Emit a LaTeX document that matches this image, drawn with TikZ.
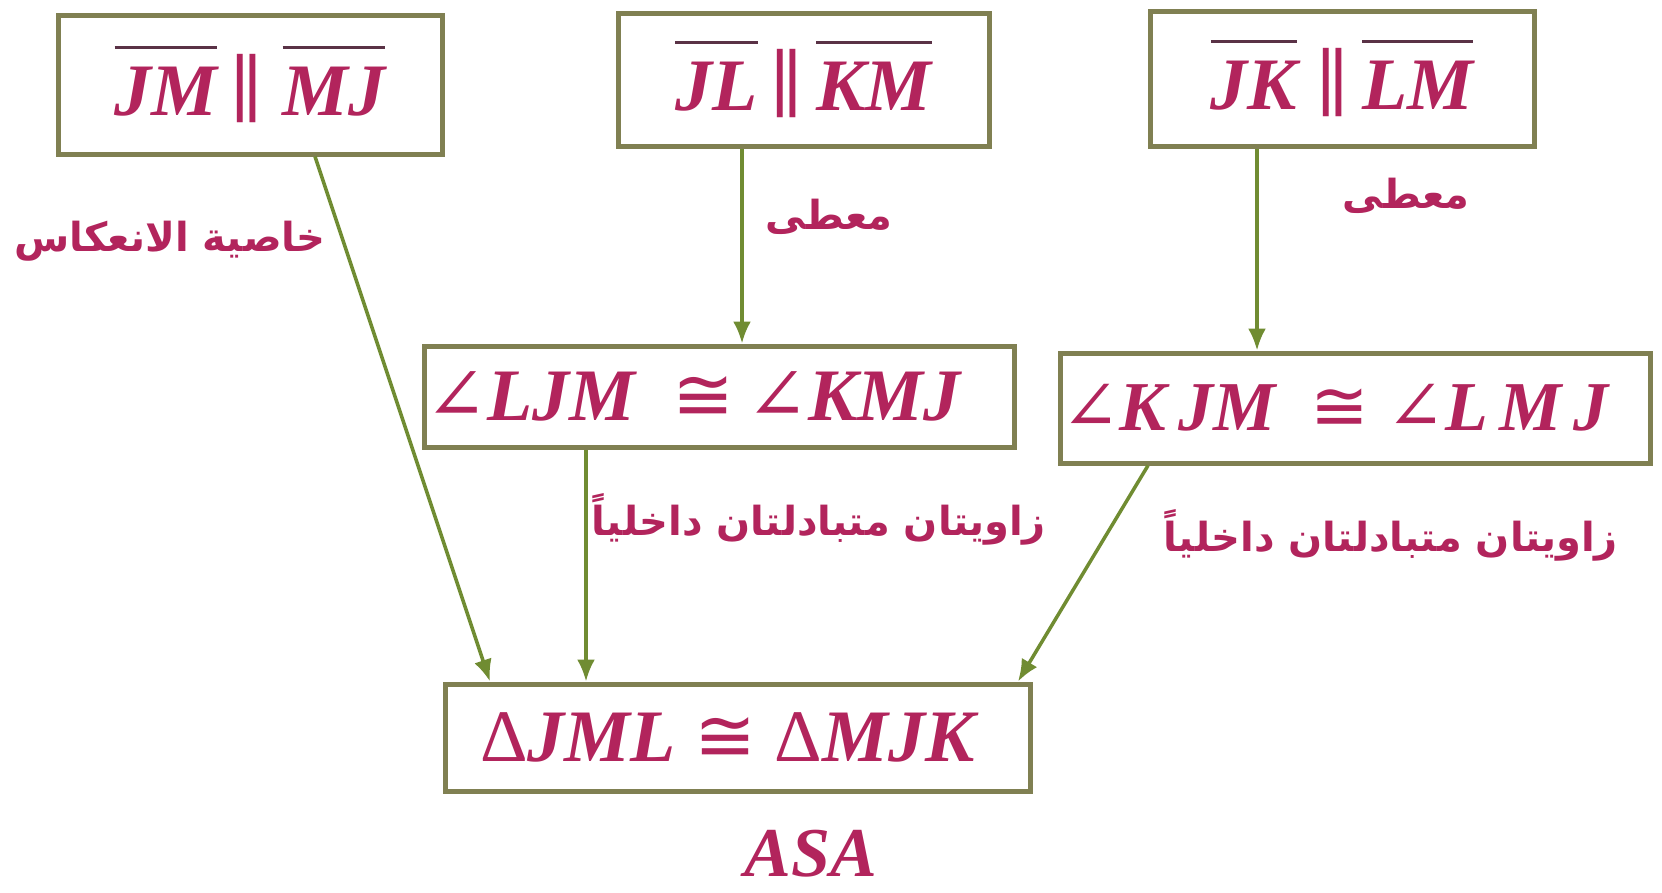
\documentclass[tikz,border=0pt]{standalone}
\usepackage{fontspec}
\setmainfont{Liberation Serif}
\newfontfamily\arabicfont[Script=Arabic]{DejaVu Sans}
\newfontfamily\symf{DejaVu Serif}
\newfontfamily\symg{DejaVu Sans}
\TeXXeTstate=1
\definecolor{txt}{RGB}{178,36,92}
\definecolor{ovc}{RGB}{90,50,70}
\definecolor{boxc}{RGB}{128,128,82}
\definecolor{arrc}{RGB}{112,140,50}
\newcommand\ovl[1]{\vbox{{\color{ovc}\hrule height 3pt}\kern 18pt\hbox{#1}}}
\newcommand\mathfont{\fontsize{74}{80}\selectfont\bfseries\itshape}
\newcommand\arfont{\fontsize{40}{46}\selectfont\arabicfont\bfseries}
\newcommand\ang{{\symf\mdseries\upshape ∠}}
\newcommand\cng{{\symg\mdseries\upshape ≅}}
\newcommand\prl{{\symf\mdseries\upshape ∥}}
\usetikzlibrary{arrows.meta}
\tikzset{
  mbox/.style={draw=boxc, line width=5pt, inner sep=0pt, fill=white, text=txt, font=\mathfont},
  arlabel/.style={text=txt, font=\arfont, inner sep=0pt},
  arr/.style={draw=arrc, line width=3.5pt, -{Latex[length=22pt,width=18pt]}},
}
\begin{document}
\begin{tikzpicture}[x=1pt,y=-1pt]
\fill[white] (0,0) rectangle (1662,892);
\node[mbox, minimum width=384pt, minimum height=139pt] (b1) at (250,84.5) {\ovl{JM}\,\prl\ \ovl{MJ}};
\node[mbox, minimum width=371pt, minimum height=133pt] (b2) at (803.5,79.5) {\ovl{JL}\,\prl\,\ovl{KM}};
\node[mbox, minimum width=384pt, minimum height=135pt] (b3) at (1342,78.5) {\ovl{JK}\ \prl\,\ovl{LM}};
\node[mbox, minimum width=590pt, minimum height=101pt] (b4) at (719,396.5) {\ang LJM\ \ \cng\,\ang KMJ\kern52pt\null};
\node[mbox, minimum width=590pt, minimum height=110pt, font=\fontsize{70}{76}\selectfont\bfseries\itshape] (b5) at (1355,408) {\ang K\,JM\ \ \cng\ \ang L\,M\,J\kern40pt\null};
\node[mbox, minimum width=585pt, minimum height=107pt] (b6) at (737.5,737.5) {{\mdseries\upshape Δ}JML \cng\ {\mdseries\upshape Δ}MJK\kern20pt\null};
\node[text=txt, font=\fontsize{70}{76}\selectfont\bfseries\itshape, inner sep=0pt] (asa) at (811,854) {ASA};
\node[arlabel] (l1) at (170,241) {\beginR خاصية الانعكاس\endR};
\node[arlabel] (l2) at (829,217) {\beginR معطى\endR};
\node[arlabel] (l3) at (1406,196) {\beginR معطى\endR};
\node[arlabel] (l4) at (819,519) {\beginR زاويتان متبادلتان داخلياً\endR};
\node[arlabel] (l5) at (1391,535) {\beginR زاويتان متبادلتان داخلياً\endR};
\draw[arr] ([xshift=65pt]b1.south) -- ([xshift=-247.5pt]b6.north);
\draw[arr] ([xshift=-61.5pt]b2.south) -- ([xshift=23pt]b4.north);
\draw[arr] ([xshift=-85pt]b3.south) -- ([xshift=-98pt]b5.north);
\draw[arr] ([xshift=-133pt]b4.south) -- ([xshift=-151.5pt]b6.north);
\draw[arr] ([xshift=-207pt]b5.south) -- ([xshift=280.5pt]b6.north);
\end{tikzpicture}
\end{document}
